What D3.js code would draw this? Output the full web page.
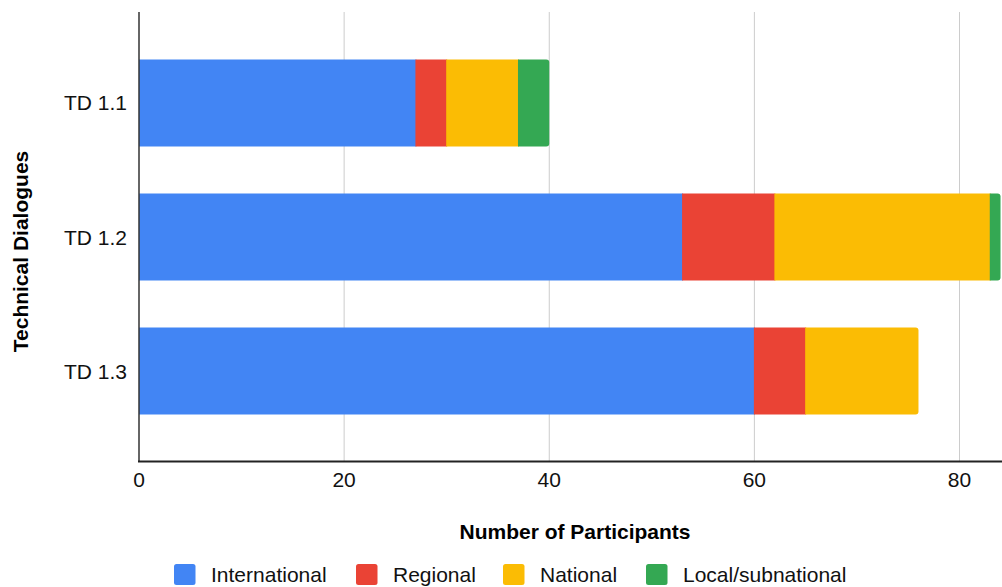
<!DOCTYPE html>
<html><head><meta charset="utf-8">
<script src="https://cdn.jsdelivr.net/npm/d3@7"></script>
<style>body{margin:0;background:#fff}svg{display:block;font-family:"Liberation Sans",Arial,sans-serif}</style>
</head><body><svg id="c" width="1002" height="587"></svg>
<script>
const categories = ["TD 1.1", "TD 1.2", "TD 1.3"];
const seriesNames = ["International", "Regional", "National", "Local/subnational"];
const international = [27, 53, 60];
const regional = [3, 9, 5];
const national = [7, 21, 11];
const local = [3, 1, 0];
const xTicks = [0, 20, 40, 60, 80];
const colors = ["#4285F4", "#EA4335", "#FBBC04", "#34A853"];

const svg = d3.select("#c");
const x = d3.scaleLinear().domain([0, 80]).range([139, 959.5]);
const y = d3.scaleBand().domain(categories).range([12, 462]).paddingInner(0.35).paddingOuter(0.354);

// gridlines
svg.append("g").selectAll("line").data(xTicks.filter(d => d > 0)).join("line")
  .attr("x1", d => x(d)).attr("x2", d => x(d)).attr("y1", 12).attr("y2", 462)
  .attr("stroke", "#cccccc").attr("stroke-width", 1);

const rows = categories.map((c, i) => ({c, vals: [international[i], regional[i], national[i], local[i]]}));
const segs = [];
rows.forEach(r => {
  let acc = 0;
  const lastIdx = r.vals.reduce((m, v, k) => v > 0 ? k : m, 0);
  r.vals.forEach((v, k) => {
    if (v > 0) segs.push({c: r.c, x0: acc, x1: acc + v, k, last: k === lastIdx});
    acc += v;
  });
});
function segPath(d) {
  const x0 = x(d.x0) - (d.k > 0 ? 0.5 : 0), x1 = x(d.x1), y0 = y(d.c), h = y.bandwidth();
  if (!d.last) return `M${x0},${y0}H${x1 + 0.5}V${y0+h}H${x0}Z`;
  const r = 3;
  return `M${x0},${y0}H${x1-r}Q${x1},${y0} ${x1},${y0+r}V${y0+h-r}Q${x1},${y0+h} ${x1-r},${y0+h}H${x0}Z`;
}
// draw later segments on top so seams are covered
svg.append("g").selectAll("path").data(segs).join("path")
  .attr("d", segPath).attr("fill", d => colors[d.k]);

// axes lines
svg.append("line").attr("x1", 139).attr("x2", 139).attr("y1", 12).attr("y2", 462)
  .attr("stroke", "#333").attr("stroke-width", 1.5);
svg.append("line").attr("x1", 138).attr("x2", 1002).attr("y1", 461.5).attr("y2", 461.5)
  .attr("stroke", "#222").attr("stroke-width", 2);

// x tick labels
svg.append("g").selectAll("text").data(xTicks).join("text")
  .attr("x", d => x(d)).attr("y", 487).attr("text-anchor", "middle")
  .attr("font-size", 21).attr("fill", "#111").text(d => d);

// y tick labels
svg.append("g").selectAll("text").data(categories).join("text")
  .attr("x", 127).attr("y", d => y(d) + y.bandwidth() / 2 + 7.5).attr("text-anchor", "end")
  .attr("font-size", 21).attr("fill", "#111").text(d => d);

// axis titles
svg.append("text").attr("x", 575).attr("y", 539).attr("text-anchor", "middle")
  .attr("font-size", 21).attr("font-weight", "bold").attr("fill", "#000").text("Number of Participants");
svg.append("text").attr("transform", "translate(28,251.5) rotate(-90)").attr("text-anchor", "middle")
  .attr("font-size", 21).attr("font-weight", "bold").attr("fill", "#000").text("Technical Dialogues");

// legend
const legX = [174, 356, 503, 646];
const leg = svg.append("g").selectAll("g").data(seriesNames).join("g")
  .attr("transform", (d, i) => `translate(${legX[i]},564)`);
leg.append("rect").attr("width", 21.5).attr("height", 21).attr("rx", 2.5).attr("fill", (d, i) => colors[i]);
leg.append("text").attr("x", 37).attr("y", 17.5).attr("font-size", 21).attr("fill", "#111").text(d => d);
</script></body></html>
